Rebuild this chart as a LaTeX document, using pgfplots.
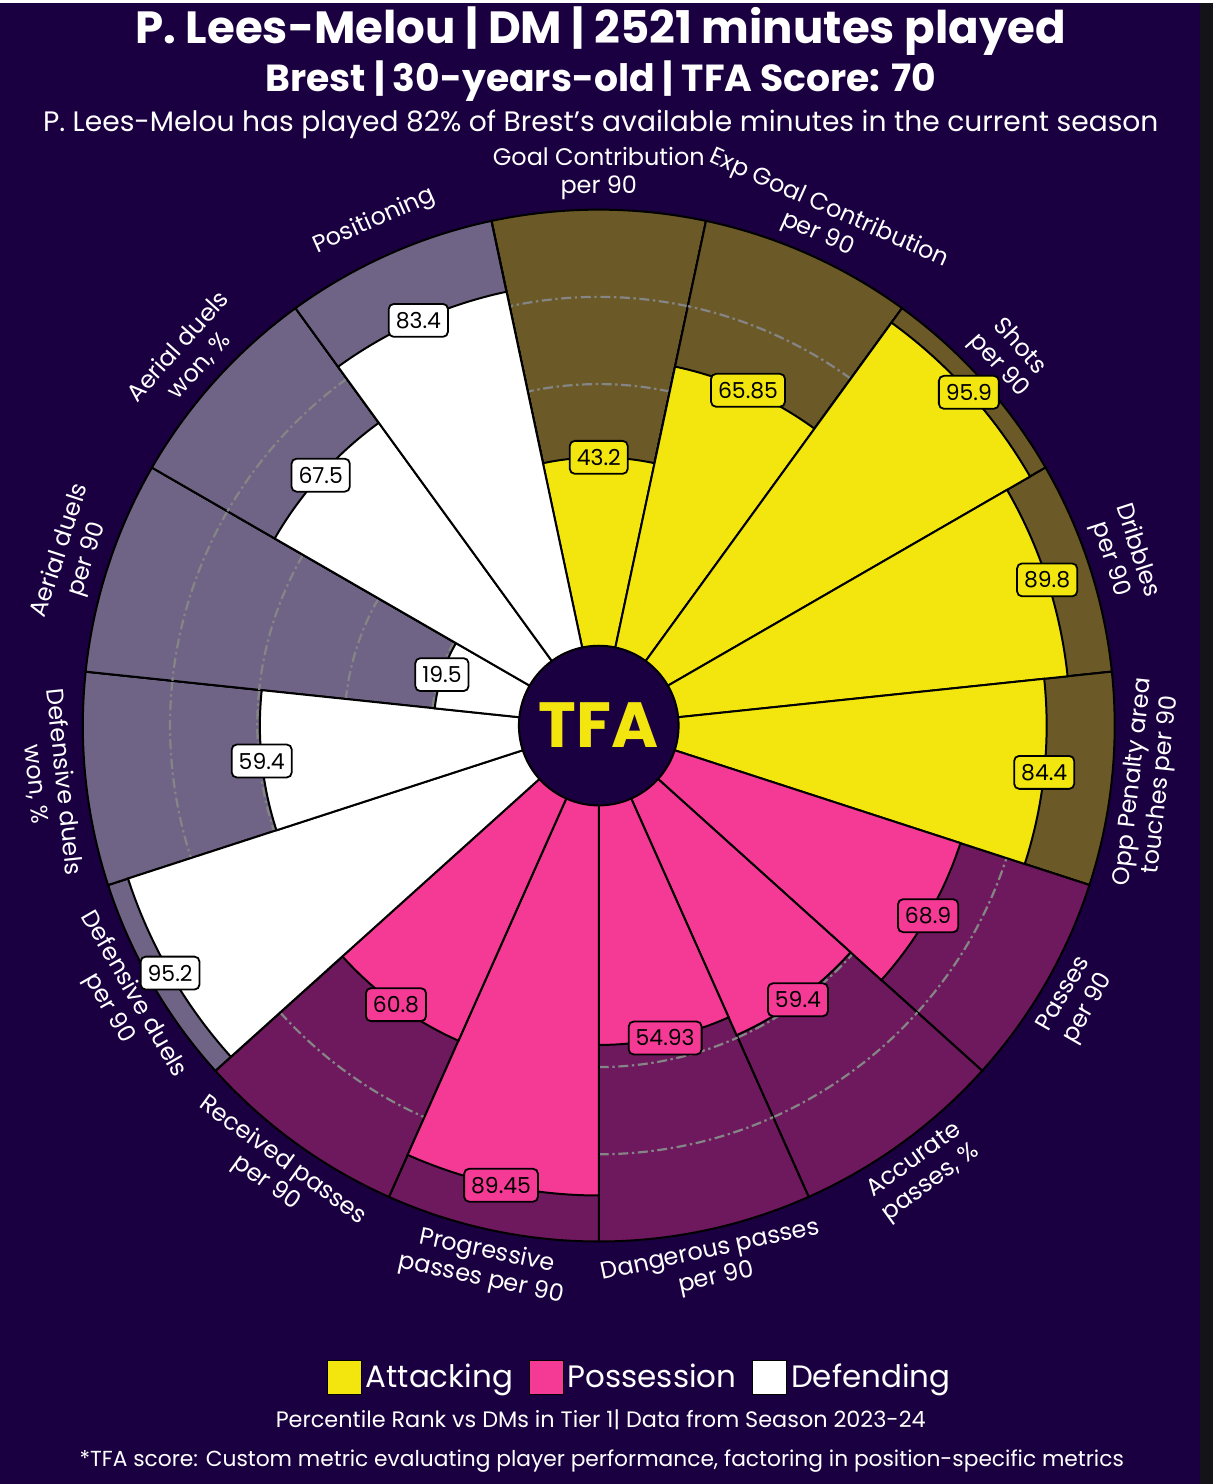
\documentclass[border=0pt]{standalone}
\usepackage{pgfplots}
\pgfplotsset{compat=1.18}
\usepackage{pgfplotstable}
\usepackage{fontspec}
\setmainfont{Poppins}

\definecolor{bgcol}{HTML}{1A0040}
\definecolor{edgecol}{HTML}{141318}
\definecolor{attack}{HTML}{F2E60E}
\definecolor{attackbg}{HTML}{6B5A28}
\definecolor{possess}{HTML}{F53A96}
\definecolor{possessbg}{HTML}{6E195E}
\definecolor{defend}{HTML}{FFFFFF}
\definecolor{defendbg}{HTML}{6F6485}
\definecolor{gridcol}{HTML}{858585}

% slice centre angle (deg), percentile, metric id
\pgfplotstableread{
ang  val    id
90   43.2   0
66   65.85  1
42   95.9   2
18   89.8   3
-6   84.4   4
}\attacking

\pgfplotstableread{
ang  val    id
-30  68.9   5
-54  59.4   6
-78  54.93  7
-102 89.45  8
-126 60.8   9
}\possession

\pgfplotstableread{
ang  val    id
-150 95.2   10
-174 59.4   11
162  19.5   12
138  67.5   13
114  83.4   14
}\defending

\newcommand\metricname[1]{\ifcase#1
  \def\nm{Goal Contribution\\per 90}\or
  \def\nm{Exp Goal Contribution\\per 90}\or
  \def\nm{Shots\\per 90}\or
  \def\nm{Dribbles\\per 90}\or
  \def\nm{Opp Penalty area\\touches per 90}\or
  \def\nm{Passes\\per 90}\or
  \def\nm{Accurate\\passes, \%}\or
  \def\nm{Dangerous passes\\per 90}\or
  \def\nm{Progressive\\passes per 90}\or
  \def\nm{Received passes\\per 90}\or
  \def\nm{Defensive duels\\per 90}\or
  \def\nm{Defensive duels\\won, \%}\or
  \def\nm{Aerial duels\\per 90}\or
  \def\nm{Aerial duels\\won, \%}\or
  \def\nm{Positioning}\fi}

% radius in pt of a percentile (picture is 0.5pt per pixel)
\def\rad#1{0.5*(80+4.37*#1)}

\pgfplotsset{
  pizza/.style={scatter, only marks, mark=*, mark size=0pt,
    mark options={draw=none, fill=none}, forget plot,
    point meta=\thisrow{val},
    visualization depends on={\thisrow{ang} \as \sang},
    visualization depends on={\thisrow{val} \as \sval},
    visualization depends on={\thisrow{id} \as \sid},
    scatter/@post marker code/.code={}},
  % full-length slice with the dash-dot percentile rings at 20, 40, 60, 80
  bgslice/.style={pizza, scatter/@pre marker code/.code={%
      \pgfmathsetmacro\angA{\sang-12}\pgfmathsetmacro\angB{\sang+12}%
      \filldraw[fill=#1, draw=black, line width=1pt] (0pt,0pt) -- (\angA:258.5pt)
        arc[start angle=\angA, end angle=\angB, radius=258.5pt] -- cycle;
      \foreach \g in {83.7,127.4,171.1,214.8}{%
        \draw[gridcol, line width=1.1pt, dash pattern=on 5pt off 1.8pt on 1.2pt off 1.8pt]
          (\angA:\g pt) arc[start angle=\angA, end angle=\angB, radius=\g pt];}%
      \draw[black, line width=1pt] (0pt,0pt) -- (\angA:258.5pt);}},
  bar/.style={pizza, scatter/@pre marker code/.code={%
      \pgfmathsetmacro\rr{\rad{\sval}}%
      \pgfmathsetmacro\angA{\sang-12}\pgfmathsetmacro\angB{\sang+12}%
      \filldraw[fill=#1, draw=black, line width=1pt] (0pt,0pt) -- (\angA:\rr pt)
        arc[start angle=\angA, end angle=\angB, radius=\rr pt] -- cycle;}},
  vlabel/.style={pizza, scatter/@pre marker code/.code={%
      \pgfmathsetmacro\rr{\rad{\sval}}%
      \node[fill=#1, draw=black, line width=0.9pt, rounded corners=2.5pt,
        inner xsep=3.5pt, inner ysep=0pt, minimum height=16.5pt, text=black,
        font=\fontsize{11}{12}\selectfont] at (\sang:\rr pt)
        {\pgfmathprintnumber[fixed, precision=2, assume math mode=true]{\sval}};}},
  clabel/.style={pizza, scatter/@pre marker code/.code={%
      \pgfmathsetmacro\rot{\sang>=0 ? \sang-90 : \sang+90}%
      \pgfmathtruncatemacro\cid{\sid}%
      \metricname{\cid}%
      \node[rotate=\rot, align=center, text=white, inner sep=0pt,
        font=\fontsize{12}{14}\selectfont] at (\sang:276.5pt) {\nm};}},
}

\begin{document}
\begin{tikzpicture}
\begin{axis}[
  set layers,
  width=608pt, height=742pt, scale only axis,
  xmin=-600, xmax=616, ymin=-760, ymax=724,
  hide axis, clip=false,
  legend columns=3,
  legend style={at={(0.528,0.0721)}, anchor=center, draw=none, fill=none,
    text=white, font=\fontsize{15.5}{18}\selectfont,
    /tikz/every even column/.append style={column sep=6pt}},
  legend image code/.code={\fill[#1] (0pt,-8.5pt) rectangle (17pt,8.5pt);},
]
\begin{pgfonlayer}{axis background}
\fill[bgcol] (rel axis cs:0,0) rectangle (rel axis cs:1,1);
\fill[edgecol] (axis cs:602,-760) rectangle (axis cs:616,724);
\end{pgfonlayer}

% full-length background slices
\addplot[bgslice=attackbg] table[x expr=0, y expr=0] {\attacking};
\addplot[bgslice=possessbg] table[x expr=0, y expr=0] {\possession};
\addplot[bgslice=defendbg] table[x expr=0, y expr=0] {\defending};

% the bars
\addplot[bar=attack] table[x expr=0, y expr=0] {\attacking};
\addplot[bar=possess] table[x expr=0, y expr=0] {\possession};
\addplot[bar=defend] table[x expr=0, y expr=0] {\defending};

\addplot[vlabel=attack] table[x expr=0, y expr=0] {\attacking};
\addplot[vlabel=possess] table[x expr=0, y expr=0] {\possession};
\addplot[vlabel=defend] table[x expr=0, y expr=0] {\defending};

\addplot[clabel] table[x expr=0, y expr=0] {\attacking};
\addplot[clabel] table[x expr=0, y expr=0] {\possession};
\addplot[clabel] table[x expr=0, y expr=0] {\defending};

% centre logo
\begin{pgfonlayer}{axis foreground}
\filldraw[fill=bgcol, draw=black, line width=1pt] (axis cs:0,0) circle[radius=40pt];
\node[text=attack, font=\fontsize{32}{32}\bfseries\selectfont] at (axis cs:0,0) {TFA};
\end{pgfonlayer}

\node[text=white, font=\fontsize{22.6}{26}\bfseries\selectfont] at (axis cs:2,696)
  {P. Lees-Melou | DM | 2521 minutes played};
\node[text=white, font=\fontsize{18.9}{22}\bfseries\selectfont] at (axis cs:2,646)
  {Brest | 30-years-old | TFA Score: 70};
\node[text=white, font=\fontsize{14.1}{16}\selectfont] at (axis cs:2,602)
  {P. Lees-Melou has played 82\% of Brest's available minutes in the current season};
\node[text=white, font=\fontsize{11.2}{13}\selectfont] at (axis cs:2,-696)
  {Percentile Rank vs DMs in Tier 1| Data from Season 2023-24};
\node[text=white, font=\fontsize{10.9}{13}\selectfont] at (axis cs:3,-737)
  {*TFA score: Custom metric evaluating player performance, factoring in position-specific metrics};

\addlegendimage{fill=attack}\addlegendentry{Attacking}
\addlegendimage{fill=possess}\addlegendentry{Possession}
\addlegendimage{fill=defend}\addlegendentry{Defending}
\end{axis}
\end{tikzpicture}
\end{document}
